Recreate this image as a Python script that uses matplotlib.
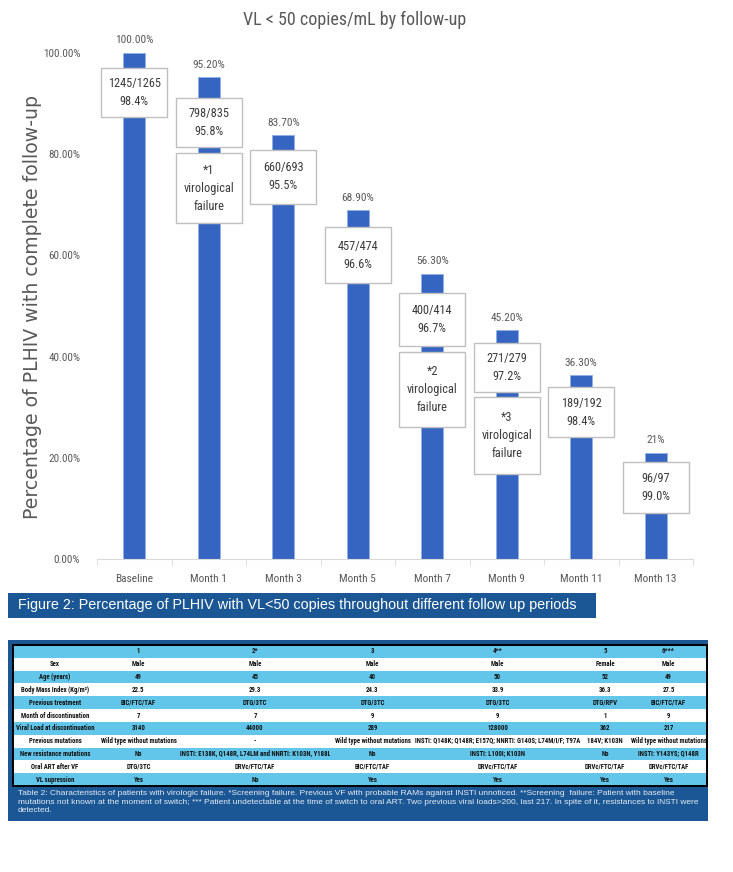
import matplotlib
matplotlib.use("Agg")
import matplotlib.pyplot as plt
from matplotlib import font_manager
from matplotlib.patches import Rectangle

# fonts available in the sandbox
_names = {f.name for f in font_manager.fontManager.ttflist}


def pick(*cands):
    for c in cands:
        if c in _names:
            return c
    return "DejaVu Sans"


NARROW = pick("Liberation Sans Narrow", "Roboto Condensed", "Liberation Sans")
ARIAL = pick("Liberation Sans", "Arial", "DejaVu Sans")
HAS_NARROW = NARROW == "Liberation Sans Narrow"

# ---- chart data ----
categories = ["Baseline", "Month 1", "Month 3", "Month 5", "Month 7",
              "Month 9", "Month 11", "Month 13"]
pct_complete = [100.0, 95.2, 83.7, 68.9, 56.3, 45.2, 36.3, 21.0]
pct_labels = ["100.00%", "95.20%", "83.70%", "68.90%", "56.30%",
              "45.20%", "36.30%", "21%"]
n_suppressed = [1245, 798, 660, 457, 400, 271, 189, 96]
n_followed = [1265, 835, 693, 474, 414, 279, 192, 97]
suppression_rate = [98.4, 95.8, 95.5, 96.6, 96.7, 97.2, 98.4, 99.0]
vf_category = ["Month 1", "Month 7", "Month 9"]
vf_label = ["*1", "*2", "*3"]

# ---- table data ----
table_header = ["", "1", "2*", "3", "4**", "5", "6***"]
row_labels = ["Sex", "Age (years)", "Body Mass Index (Kg/m²)",
              "Previous treatment", "Month of discontinuation",
              "Viral Load at discontinuation", "Previous mutations",
              "New resistance mutations", "Oral ART after VF", "VL supression"]
sex = ["Male", "Male", "Male", "Male", "Female", "Male"]
age = ["49", "45", "40", "50", "52", "49"]
bmi = ["22.5", "29.3", "24.3", "33.9", "36.3", "27.5"]
prev_treatment = ["BIC/FTC/TAF", "DTG/3TC", "DTG/3TC", "DTG/3TC", "DTG/RPV", "BIC/FTC/TAF"]
month_disc = ["7", "7", "9", "9", "1", "9"]
viral_load = ["3140", "44000", "289", "128000", "362", "217"]
prev_mutations = ["Wild type without mutations", "-", "Wild type without mutations",
                  "INSTI: Q148K; Q148R; E157Q; NNRTI: G140S; L74M/I/F; T97A",
                  "184V; K103N", "Wild type without mutations"]
new_mutations = ["No", "INSTI: E138K, Q148R, L74LM and NNRTI: K103N, Y188L", "No",
                 "INSTI: L100I; K103N", "No", "INSTI: Y143YS; Q148R"]
oral_art = ["DTG/3TC", "DRVc/FTC/TAF", "BIC/FTC/TAF", "DRVc/FTC/TAF",
            "DRVc/FTC/TAF", "DRVc/FTC/TAF"]
vl_suppression = ["Yes", "No", "Yes", "Yes", "Yes", "Yes"]

fig_caption = "Figure 2: Percentage of PLHIV with VL<50 copies throughout different follow up periods"
table_caption = ("Table 2: Characteristics of patients with virologic failure. *Screening failure. "
                 "Previous VF with probable RAMs against INSTI unnoticed. **Screening  failure: "
                 "Patient with baseline\nmutations not known at the moment of switch; *** Patient "
                 "undetectable at the time of switch to oral ART. Two previous viral loads>200, "
                 "last 217. In spite of it, resistances to INSTI were\ndetected.")

# ---- layout (annotation box spans in % units, top/bottom) ----
rate_box = [(97.0, 87.4), (91.1, 81.4), (80.8, 70.2), (65.6, 54.5),
            (52.6, 42.1), (42.7, 33.0), (34.0, 24.1), (19.2, 9.1)]
vf_box = [(80.2, 66.4), (40.9, 26.1), (32.0, 16.8)]
BOX_W = 0.885

W, H = 733, 872
fig = plt.figure(figsize=(W / 100, H / 100), dpi=100)
fig.patch.set_facecolor("white")

GRAY = "#595959"
BAR = "#3565c0"

ax = fig.add_axes([97 / W, 1 - 559 / H, 596 / W, 506 / H])
x = list(range(len(categories)))
ax.bar(x, pct_complete, width=0.3, color=BAR, edgecolor="#8fb0e8", linewidth=0.6, zorder=2)
ax.set_xlim(-0.5, len(categories) - 0.5)
ax.set_ylim(0, 100)

for i, lbl in enumerate(pct_labels):
    ax.annotate(lbl, (i, pct_complete[i]), xytext=(0, 5.5), textcoords="offset points",
                ha="center", va="bottom", fontsize=8.2, color=GRAY, family=NARROW)


def note_box(i, span, text):
    top, bot = span
    ax.add_patch(Rectangle((i - BOX_W / 2, bot), BOX_W, top - bot, facecolor="white",
                           edgecolor="#bfbfbf", linewidth=1.0, zorder=3))
    ax.text(i, (top + bot) / 2, text, ha="center", va="center", fontsize=8.8,
            color="#3a3a3a", family=NARROW, linespacing=1.5, zorder=4)


for i in x:
    note_box(i, rate_box[i], f"{n_suppressed[i]}/{n_followed[i]}\n{suppression_rate[i]:.1f}%")
for k, cat in enumerate(vf_category):
    note_box(categories.index(cat), vf_box[k], f"{vf_label[k]}\nvirological\nfailure")

for s in ("top", "right", "left"):
    ax.spines[s].set_visible(False)
ax.spines["bottom"].set_color("#d9d9d9")
ax.set_xticks(x)
ax.set_xticklabels(categories, fontsize=8.2, color=GRAY, family=NARROW)
ax.set_xticks([v - 0.5 for v in range(len(categories) + 1)], minor=True)
ax.tick_params(axis="x", which="major", length=0, pad=11)
ax.tick_params(axis="x", which="minor", length=4, color="#d9d9d9", direction="out")
ax.set_yticks([0, 20, 40, 60, 80, 100])
ax.set_yticklabels([f"{v:.2f}%" for v in [0, 20, 40, 60, 80, 100]],
                   fontsize=8, color=GRAY, family=NARROW)
ax.tick_params(axis="y", length=0, pad=12)

fig.text(355 / W, 1 - 20 / H, "VL < 50 copies/mL by follow-up", ha="center", va="center",
         fontsize=13, color=GRAY, family=NARROW)
fig.text(33 / W, 1 - 307 / H, "Percentage of PLHIV with complete follow-up", rotation=90,
         ha="center", va="center", fontsize=13.6, color=GRAY, family="DejaVu Sans")

# ---- figure caption bar ----
DARK = "#1b5794"
fig.patches.append(Rectangle((8 / W, 1 - 618 / H), 588 / W, 25 / H, transform=fig.transFigure,
                             facecolor=DARK, edgecolor="none", zorder=-1))
fig.text(18 / W, 1 - 605 / H, fig_caption, ha="left", va="center", fontsize=10.4,
         color="white", family=ARIAL)

# ---- table panel ----
fig.patches.append(Rectangle((8 / W, 1 - 821 / H), 700 / W, 181 / H, transform=fig.transFigure,
                             facecolor=DARK, edgecolor="none", zorder=-1))

ax_t = fig.add_axes([13 / W, 1 - 786 / H, 694 / W, 141 / H])
ax_t.axis("off")
columns = [sex, age, bmi, prev_treatment, month_disc, viral_load,
           prev_mutations, new_mutations, oral_art, vl_suppression]
cell_text = [table_header] + [[lbl] + vals for lbl, vals in zip(row_labels, columns)]
LIGHT = "#62c6ea"
colours = [[LIGHT if r % 2 == 0 else "white"] * 7 for r in range(len(cell_text))]
col_px = [84, 83, 150, 85, 165, 50, 77]
tbl = ax_t.table(cellText=cell_text, cellColours=colours,
                 colWidths=[c / sum(col_px) for c in col_px],
                 cellLoc="center", bbox=[0, 0, 1, 1])
tbl.auto_set_font_size(False)
tfs = 5.4 if HAS_NARROW else 4.9
for (r, c), cell in tbl.get_celld().items():
    cell.set_linewidth(0)
    cell.PAD = 0.01
    cell.get_text().set_fontsize(tfs)
    cell.get_text().set_family(NARROW)
    cell.get_text().set_color("#111111")
    cell.get_text().set_fontweight("semibold")
ax_t.add_patch(Rectangle((0, 0), 1, 1, transform=ax_t.transAxes, fill=False,
                         edgecolor="black", linewidth=1.4, zorder=5, clip_on=False))

fig.text(18 / W, 1 - 790 / H, table_caption, ha="left", va="top", fontsize=6.05,
         color="#e6edf5", family=ARIAL, linespacing=1.35)

fig.savefig("out.png", dpi=100)
